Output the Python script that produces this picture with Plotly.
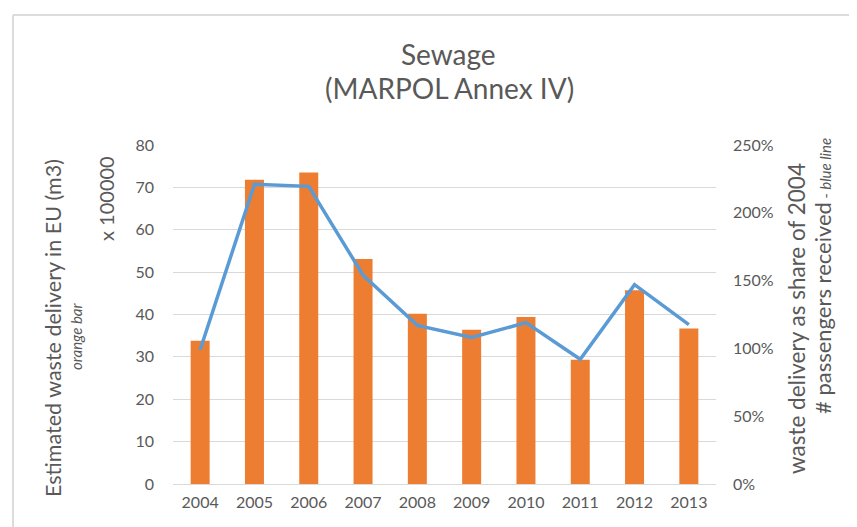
import plotly.graph_objects as go

years = ["2004", "2005", "2006", "2007", "2008", "2009", "2010", "2011", "2012", "2013"]
delivery = [33.8, 71.8, 73.5, 53.1, 40.2, 36.4, 39.4, 29.3, 45.7, 36.7]   # x 100000 m3
share = [0.99, 2.21, 2.195, 1.54, 1.17, 1.08, 1.19, 0.92, 1.47, 1.175]     # share of 2004
left_ticks = [0, 10, 20, 30, 40, 50, 60, 70, 80]
right_ticks = [0, 0.5, 1.0, 1.5, 2.0, 2.5]

W, H = 857, 527
L, R, T, B = 165, 708, 137, 476
FONT = "Lato, Open Sans, sans-serif"
GRAY = "#595959"

def px(x):
    return (x - L) / (R - L)

def py(y):
    return (B - y) / (B - T)

fig = go.Figure()
fig.add_trace(go.Bar(x=years, y=delivery, marker=dict(color="#ED7D31", line=dict(width=0)),
                     yaxis="y", showlegend=False))
fig.add_trace(go.Scatter(x=years, y=share, mode="lines", line=dict(color="#5B9BD5", width=3.5),
                         yaxis="y2", showlegend=False))

annos = [
    dict(text="Sewage", x=px(440), y=py(46), size=28, angle=0),
    dict(text="(MARPOL Annex IV)", x=px(441), y=py(80), size=28, angle=0),
    dict(text="Estimated waste delivery in EU (m3)", x=px(45), y=py(320), size=21.5, angle=-90),
    dict(text="<i>orange bar</i>", x=px(68), y=py(329), size=15, angle=-90),
    dict(text="x 100000", x=px(98), y=py(191), size=20, angle=-90),
    dict(text="waste delivery as share of 2004", x=px(788), y=py(311), size=22.5, angle=-90),
    dict(text="# passengers received<span style='font-size:15px'><i> - blue line</i></span>",
         x=px(814), y=py(268), size=22, angle=-90),
]
annotations = [dict(text=a["text"], x=a["x"], y=a["y"], xref="paper", yref="paper",
                    showarrow=False, textangle=a["angle"], xanchor="center", yanchor="middle",
                    font=dict(family=FONT, size=a["size"], color=GRAY)) for a in annos]

shapes = [
    dict(type="line", xref="paper", yref="paper", x0=px(5), x1=px(857), y0=py(7), y1=py(7),
         line=dict(color="#dcdcdc", width=2)),
    dict(type="line", xref="paper", yref="paper", x0=px(5), x1=px(5), y0=py(7), y1=py(527),
         line=dict(color="#dcdcdc", width=2)),
]

fig.update_layout(
    width=W, height=H,
    margin=dict(l=L, r=W - R, t=T, b=H - B, pad=0),
    paper_bgcolor="white", plot_bgcolor="white",
    font=dict(family=FONT, color=GRAY),
    bargap=0.65,
    xaxis=dict(type="category", showgrid=False, showline=True, linecolor="#d9d9d9", linewidth=1,
               ticks="", tickfont=dict(size=16, color=GRAY), ticklabelstandoff=4),
    yaxis=dict(range=[0, 80], tickvals=left_ticks, showgrid=True, gridcolor="#d9d9d9", gridwidth=1,
               zeroline=False, showline=False, ticks="", tickfont=dict(size=16, color=GRAY),
               ticklabelstandoff=18),
    yaxis2=dict(range=[0, 2.5], tickvals=right_ticks, tickformat=".0%", overlaying="y", side="right",
                showgrid=False, zeroline=False, showline=False, ticks="",
                tickfont=dict(size=16, color=GRAY), ticklabelstandoff=16),
    annotations=annotations,
    shapes=shapes,
)

fig.write_html("out.html")
